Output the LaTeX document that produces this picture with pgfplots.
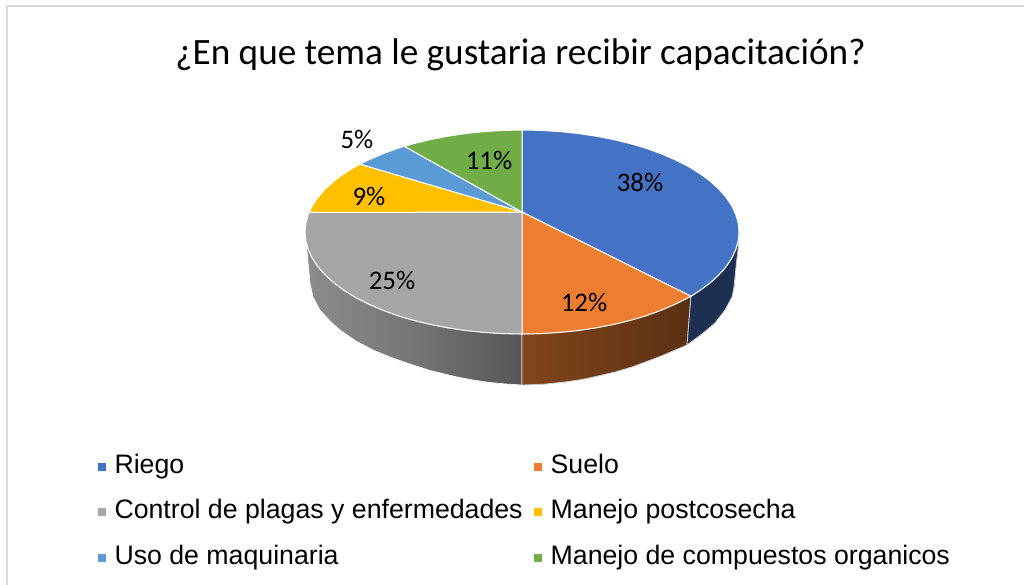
\documentclass[border=0pt]{standalone}
\usepackage{pgfplots}
\usepackage{fontspec}
\pgfplotsset{compat=1.18}
\setmainfont{Carlito}
\newfontfamily\legfont{Liberation Sans}
\definecolor{cBlue}{HTML}{4472C4}
\definecolor{cOrange}{HTML}{ED7D31}
\definecolor{cGray}{HTML}{A5A5A5}
\definecolor{cYellow}{HTML}{FFC000}
\definecolor{cSky}{HTML}{5B9BD5}
\definecolor{cGreen}{HTML}{70AD47}
\definecolor{cFrame}{HTML}{D9D9D9}
\begin{document}
\begin{tikzpicture}
\path[use as bounding box] (0,0) rectangle (1024pt,585pt);
\begin{axis}[
  at={(0,0)},anchor=south west,
  scale only axis,width=1024pt,height=585pt,
  xmin=0,xmax=1024,ymin=0,ymax=585,y dir=reverse,
  hide axis,clip=true,
  title={¿En que tema le gustaria recibir capacitación?},
  title style={at={(0.5083,0.8957)},anchor=center,font=\fontsize{37.2}{40}\selectfont,inner sep=0pt},
  legend cell align=left,
  legend columns=2,
  legend image code/.code={\fill[#1,draw=none] (0pt,-4pt) rectangle (8pt,4pt);},
  legend style={at={(axis cs:98,455)},anchor=north west,draw=none,fill=none,
    font=\fontsize{26.7}{30}\selectfont\legfont,
    row sep=22.6pt,inner sep=0pt,outer sep=0pt,
    nodes={inner sep=0pt,outer sep=0pt,text depth=5pt,text height=18pt},
    /tikz/every even column/.style={column sep=11.5pt},
    /tikz/every odd column/.style={column sep=8.5pt}},
]
% frame
\addplot[forget plot,draw=cFrame,line width=1.5pt] coordinates {(7,585) (7,6) (1024,6)};
% sides
\addplot[forget plot,draw=white,line width=.6pt,left color=black!45!white,right color=black!66!white,middle color=black!54!white] coordinates {
(305,232)(305.8,240.9)(308.3,249.7)(312.4,258.4)(318.1,266.9)(325.3,275.1)(334.1,283.0)(344.2,290.5)(355.8,297.6)(368.6,304.1)(382.5,310.1)(397.5,315.6)(413.5,320.3)(430.3,324.4)(447.8,327.8)(465.8,330.5)(484.3,332.4)(503.1,333.6)(522,334)
(522,385)(506,384)(490,382.5)(473,380)(457,377)(430,370.5)(407,363)(390,357)(373,350)(356,341)(340,330)(330,321)(320,310)(313,297)(310,283)(309,272)(308,262)(307,250)(305.8,240)(305,232)} -- cycle;
\addplot[forget plot,draw=white!80!black,line width=.8pt,left color=cOrange!55!black,middle color=cOrange!40!black,right color=cOrange!38!black] coordinates {
(522,334)(540.9,333.6)(559.7,332.4)(578.2,330.5)(596.2,327.8)(613.7,324.4)(630.5,320.3)(646.5,315.6)(661.5,310.1)(675.4,304.1)(691,296.3)
(687,345)(660,356.5)(632,367)(615,372)(598,376)(582,379.5)(565,382)(543,384.3)(522,385)} -- cycle;
\addplot[forget plot,draw=white!80!black,line width=.8pt,fill=cBlue!42!black] coordinates {
(691,296.3)(699.8,290.5)(709.9,283.0)(718.7,275.1)(725.9,266.9)(731.6,258.4)(735.7,249.7)(738.2,240.9)(739,232)
(739,236)(738,250)(736.5,262)(735,277)(734,287)(732,297)(725,310)(715,323)(702,334)(687,345)} -- cycle;
% top
\addplot[draw=white,line width=1pt,fill=cBlue] coordinates {
(522,212)(522,130)(540.9,130.4)(559.7,131.6)(578.2,133.5)(596.2,136.2)(613.7,139.6)(630.5,143.7)(646.5,148.4)(661.5,153.9)(675.4,159.9)(688.2,166.4)(699.8,173.5)(709.9,181.0)(718.7,188.9)(725.9,197.1)(731.6,205.6)(735.7,214.3)(738.2,223.1)(739,232)(738.2,240.9)(735.7,249.7)(731.6,258.4)(725.9,266.9)(718.7,275.1)(709.9,283.0)(699.8,290.5)(691,296.3)} -- cycle;
\addplot[draw=white,line width=1pt,fill=cOrange] coordinates {
(522,212)(691,296.3)(675.4,304.1)(661.5,310.1)(646.5,315.6)(630.5,320.3)(613.7,324.4)(596.2,327.8)(578.2,330.5)(559.7,332.4)(540.9,333.6)(522,334)} -- cycle;
\addplot[draw=white,line width=1pt,fill=cGray] coordinates {
(522,212)(522,334)(503.1,333.6)(484.3,332.4)(465.8,330.5)(447.8,327.8)(430.3,324.4)(413.5,320.3)(397.5,315.6)(382.5,310.1)(368.6,304.1)(355.8,297.6)(344.2,290.5)(334.1,283.0)(325.3,275.1)(318.1,266.9)(312.4,258.4)(308.3,249.7)(305.8,240.9)(305,232)(305.8,223.1)(308.3,214.3)(309,212.5)} -- cycle;
\addplot[draw=white,line width=1pt,fill=cYellow] coordinates {
(522,212)(309,212.5)(312.4,205.6)(318.1,197.1)(325.3,188.9)(334.1,181.0)(344.2,173.5)(355.8,166.4)(360,164.1)} -- cycle;
\addplot[draw=white,line width=1pt,fill=cSky] coordinates {
(522,212)(360,164.1)(368.6,159.9)(382.5,153.9)(397.5,148.4)(404.3,146.3)} -- cycle;
\addplot[draw=white,line width=1pt,fill=cGreen] coordinates {
(522,212)(404.3,146.3)(413.5,143.7)(430.3,139.6)(447.8,136.2)(465.8,133.5)(484.3,131.6)(503.1,130.4)(522,130)} -- cycle;
\legend{Riego,Suelo,Control de plagas y enfermedades,Manejo postcosecha,Uso de maquinaria,Manejo de compuestos organicos}
\begin{scope}[every node/.style={font=\fontsize{26.8}{28}\selectfont,inner sep=0pt,text=black}]
\node at (axis cs:640,182) {38\%};
\node at (axis cs:584,302) {12\%};
\node at (axis cs:392,280) {25\%};
\node at (axis cs:369,196) {9\%};
\node at (axis cs:357,139) {5\%};
\node at (axis cs:489,160) {11\%};
\end{scope}
\end{axis}
\end{tikzpicture}
\end{document}
